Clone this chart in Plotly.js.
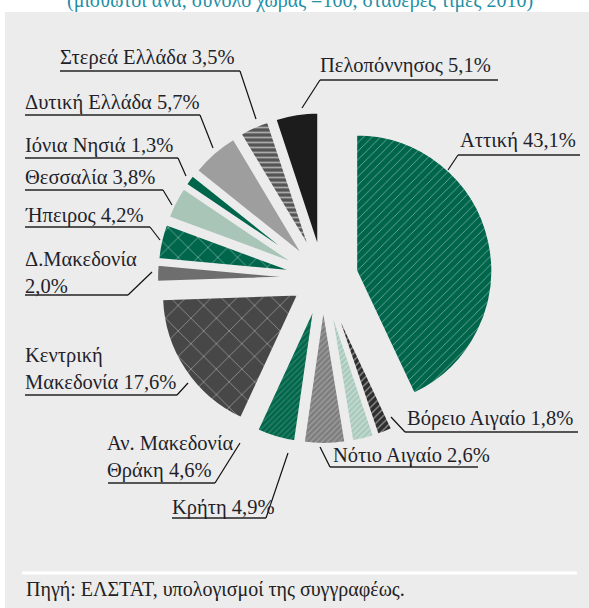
<!DOCTYPE html>
<html>
<head>
<meta charset="utf-8">
<script src="https://cdn.plot.ly/plotly-3.0.1.min.js"></script>
<style>
  html, body { margin: 0; padding: 0; background: #fff; }
  #chart { width: 589px; height: 608px; }
</style>
</head>
<body>
<div id="chart"></div>
<script>
const regions = ['Αττική', 'Βόρειο Αιγαίο', 'Νότιο Αιγαίο', 'Κρήτη', 'Αν. Μακεδονία Θράκη',
  'Κεντρική Μακεδονία', 'Δ.Μακεδονία', 'Ήπειρος', 'Θεσσαλία', 'Ιόνια Νησιά',
  'Δυτική Ελλάδα', 'Στερεά Ελλάδα', 'Πελοπόννησος'];
const shares = [43.1, 1.8, 2.6, 4.9, 4.6, 17.6, 2.0, 4.2, 3.8, 1.3, 5.7, 3.5, 5.1];
const labelTexts = ['Αττική 43,1%', 'Βόρειο Αιγαίο 1,8%', 'Νότιο Αιγαίο 2,6%', 'Κρήτη 4,9%',
  'Αν. Μακεδονία<br>Θράκη 4,6%', 'Κεντρική<br>Μακεδονία 17,6%', 'Δ.Μακεδονία<br>2,0%',
  'Ήπειρος 4,2%', 'Θεσσαλία 3,8%', 'Ιόνια Νησιά 1,3%', 'Δυτική Ελλάδα 5,7%',
  'Στερεά Ελλάδα 3,5%', 'Πελοπόννησος 5,1%'];

const W = 589, H = 608;
const bg = '#ececec';
const green = '#00664b';
const serif = 'Liberation Serif, DejaVu Serif, serif';

// slice styles
const colors = [green, '#2e2e2e', '#a9c9bc', '#7d7d7d', green, '#474747', '#6e6e6e',
  green, '#a8c5b8', green, '#9e9e9e', '#555555', '#1c1c1c'];
const patShape = ['/', '/', '/', '/', '/', 'x', '', 'x', '', '', '', '-', ''];
const patFg = ['#ffffff', '#ffffff', '#eef6f2', '#c4c4c4', '#5f9e88', '#e0e0e0', '#fff',
  '#ffffff', '#fff', '#fff', '#fff', '#ffffff', '#fff'];
const patSize = [6, 5, 4, 4, 4, 18, 8, 14, 8, 8, 8, 5, 8];
const patSolid = [0.13, 0.25, 0.3, 0.3, 0.3, 0.09, 0.3, 0.1, 0.3, 0.3, 0.3, 0.35, 0.3];
const pulls = [0.25, 0.22, 0.22, 0.22, 0.22, 0.22, 0.22, 0.22, 0.22, 0.22, 0.22, 0.22, 0.22];

// label placement in pixels: [left x, centre y, underline y, underline x0, x1, leader x, leader y, leader from right?]
const labelPos = [
  [460, 140, 155, 458, 580, 448, 170, false],
  [407, 418, 432, 405, 578, 391, 417, false],
  [333, 455, 467, 330, 478, 320, 447, false],
  [172, 507, 518, 172, 266, 288, 453, true],
  [107, 457, 483, 108, 215, 240, 443, true],
  [25, 368, 395, 25, 177, 188, 383, true],
  [25, 272, 295, 25, 128, 152, 272, true],
  [25, 215, 227, 25, 150, 160, 240, true],
  [25, 177, 190, 25, 163, 172, 205, true],
  [25, 145, 158, 25, 178, 186, 176, true],
  [25, 102, 115, 25, 200, 213, 148, true],
  [60, 57, 71, 60, 240, 256, 119, true],
  [320, 65, 80, 320, 498, 302, 108, false]
];

const px = x => x / W;
const py = y => 1 - y / H;

// pie box: centre and size in pixels
const cx = 323, cy = 278, box = 340;

const trace = {
  type: 'pie',
  labels: regions,
  values: shares,
  sort: false,
  direction: 'clockwise',
  rotation: 0,
  pull: pulls,
  textinfo: 'none',
  hoverinfo: 'label+percent',
  showlegend: false,
  domain: {
    x: [px(cx - box / 2), px(cx + box / 2)],
    y: [py(cy + box / 2), py(cy - box / 2)]
  },
  marker: {
    colors: colors,
    line: { color: bg, width: 2 },
    pattern: {
      shape: patShape,
      bgcolor: colors,
      fgcolor: patFg,
      fillmode: 'overlay',
      size: patSize,
      solidity: patSolid
    }
  }
};

const shapes = [
  { type: 'rect', xref: 'paper', yref: 'paper', x0: px(5), x1: 1, y0: 0, y1: py(12),
    fillcolor: bg, line: { width: 0 }, layer: 'below' },
  { type: 'line', xref: 'paper', yref: 'paper', x0: px(22), x1: px(577), y0: py(573), y1: py(573),
    line: { color: '#ffffff', width: 3 } }
];

const annotations = [
  { text: '(μισθωτοί ανά, σύνολο χώρας =100, σταθερές τιμές 2010)', xref: 'paper', yref: 'paper',
    x: px(65), y: py(0), xanchor: 'left', yanchor: 'middle', showarrow: false,
    font: { family: serif, size: 20, color: '#1f8fa6' } },
  { text: 'Πηγή: ΕΛΣΤΑΤ, υπολογισμοί της συγγραφέως.', xref: 'paper', yref: 'paper',
    x: px(24), y: py(589), xanchor: 'left', yanchor: 'middle', showarrow: false,
    font: { family: serif, size: 20, color: '#222' } }
];

labelPos.forEach((p, i) => {
  const [lx, ly, uy, ux0, ux1, ex, ey, fromRight] = p;
  annotations.push({
    text: labelTexts[i], xref: 'paper', yref: 'paper', x: px(lx - 2), y: py(ly),
    xanchor: 'left', yanchor: 'middle', align: 'left', showarrow: false,
    font: { family: serif, size: 20.5, color: '#231f2a' }
  });
  shapes.push({ type: 'line', xref: 'paper', yref: 'paper',
    x0: px(ux0), x1: px(ux1), y0: py(uy), y1: py(uy),
    line: { color: '#555', width: 2 } });
  const sx = fromRight ? ux1 : ux0;
  shapes.push({ type: 'line', xref: 'paper', yref: 'paper',
    x0: px(sx), x1: px(ex), y0: py(uy), y1: py(ey),
    line: { color: '#111', width: 1.2 } });
});

const layout = {
  width: W,
  height: H,
  margin: { l: 0, r: 0, t: 0, b: 0 },
  paper_bgcolor: '#ffffff',
  shapes: shapes,
  annotations: annotations
};

Plotly.newPlot('chart', [trace], layout, { displayModeBar: false, staticPlot: true });
</script>
</body>
</html>
